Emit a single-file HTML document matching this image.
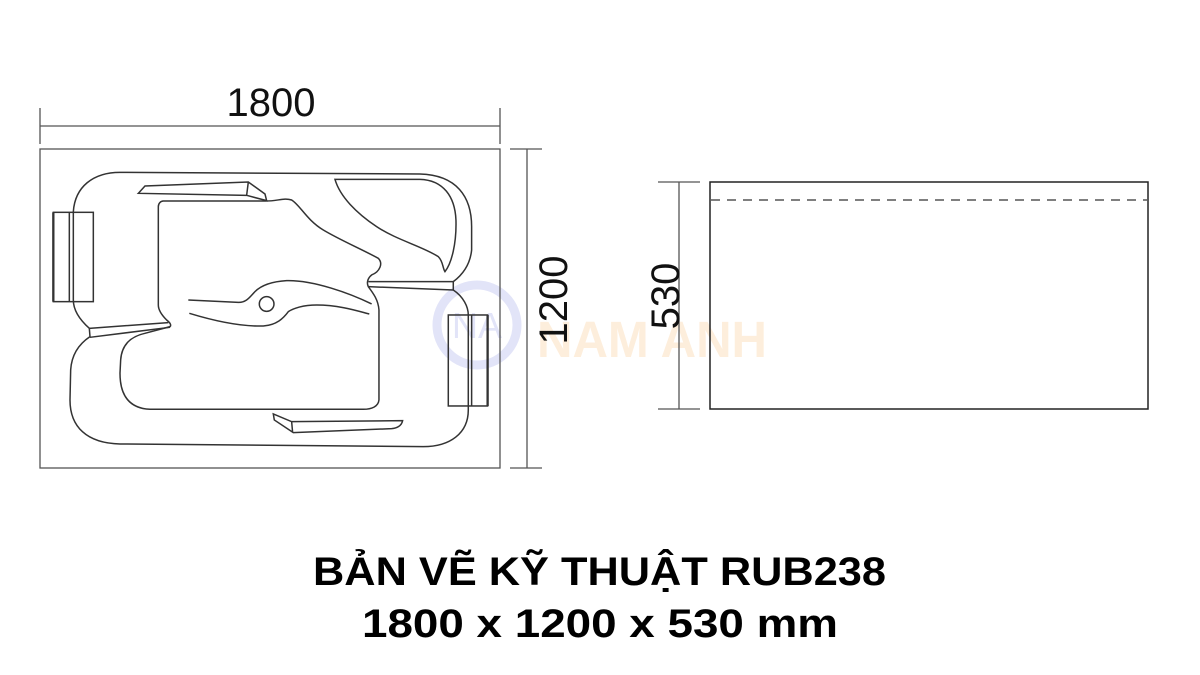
<!DOCTYPE html>
<html><head><meta charset="utf-8"><style>
html,body{margin:0;padding:0;background:#fff;}
svg{display:block;}
</style></head><body>
<svg width="1200" height="675" viewBox="0 0 1200 675" xmlns="http://www.w3.org/2000/svg">
<rect width="1200" height="675" fill="#fff"/>
<!-- watermark -->
<circle cx="477" cy="325" r="40" fill="none" stroke="#e2e4f8" stroke-width="9"/>
<text x="477" y="338" font-family="Liberation Sans, sans-serif" font-size="36" fill="#e2e4f8" text-anchor="middle">NA</text>
<text x="537" y="357" font-family="Liberation Sans, sans-serif" font-weight="bold" font-size="51" fill="#fdeedc" textLength="230" lengthAdjust="spacingAndGlyphs">NAM ANH</text>

<g fill="none" stroke="#555" stroke-width="1.3">
<!-- top dimension -->
<line x1="40" y1="126" x2="500" y2="126"/>
<line x1="40" y1="108" x2="40" y2="144"/>
<line x1="500" y1="108" x2="500" y2="144"/>
<!-- right dimension 1200 -->
<line x1="527" y1="149" x2="527" y2="468"/>
<line x1="510" y1="149" x2="542" y2="149"/>
<line x1="510" y1="468" x2="542" y2="468"/>
<!-- 530 dimension -->
<line x1="679" y1="182" x2="679" y2="409"/>
<line x1="658" y1="182" x2="700" y2="182"/>
<line x1="658" y1="409" x2="700" y2="409"/>
<!-- outer rect -->
<rect x="40" y="149" width="460" height="319"/>
</g>
<!-- side view -->
<rect x="710" y="182" width="438" height="227" fill="none" stroke="#222" stroke-width="1.5"/>
<line x1="711" y1="200" x2="1147" y2="200" stroke="#333" stroke-width="1.3" stroke-dasharray="9,7"/>

<!-- tub plan -->
<g transform="translate(30,140) scale(0.3333)" fill="none" stroke="#333" stroke-width="4.5">
<path d="M270,97 L1170,102 C1280,105 1325,170 1325,260 L1325,330 C1320,380 1290,410 1270,425 L1270,450 C1300,470 1315,500 1315,525 L1315,810 C1315,880 1260,920 1180,920 L270,912 C170,910 120,860 120,780 L122,690 C125,640 150,610 180,590 L178,565 C150,540 130,510 130,480 L130,215 C135,140 190,97 270,97 Z"/>
<path d="M178,565 L415,548 M180,592 L420,562"/>
<path d="M1015,425 L1270,425 M1015,440 L1270,450"/>
<path d="M400,183 L700,183 C740,185 760,172 785,180 C810,195 830,240 880,270 C930,300 1000,330 1045,355 C1060,370 1050,395 1025,405 C1012,415 1010,430 1015,440 C1030,460 1045,480 1047,510 L1047,780 C1045,800 1025,808 1000,808 L360,808 C300,805 270,770 270,700 L272,660 C275,615 300,590 345,580 L420,560 C425,555 420,548 410,540 C395,525 385,510 385,495 L385,200 C385,190 392,183 400,183 Z"/>
<path d="M325,160 L345,138 L655,126 L705,162 L710,182 L650,166 Z M650,166 L655,126"/>
<path d="M730,822 L785,845 L1118,842 C1115,858 1100,865 1085,866 L790,878 L733,840 Z M785,845 L788,878"/>
<path d="M915,118 L1170,118 C1240,120 1275,170 1278,240 C1280,310 1265,370 1245,395 C1238,385 1240,365 1225,350 C1180,320 1100,300 1040,260 C980,220 930,170 915,118 Z"/>
<path d="M475,480 L625,487 C650,488 660,470 675,455 C690,440 720,425 770,422 C850,420 960,460 1025,492"/>
<path d="M478,520 C560,545 640,560 700,558 C740,555 760,535 775,515 C790,505 820,495 860,495 C930,495 990,515 1018,522"/>
<circle cx="710" cy="492" r="22"/>
<rect x="70" y="217" width="120" height="268"/>
<line x1="118" y1="217" x2="118" y2="485"/>
<line x1="70" y1="217" x2="70" y2="485" stroke-width="7"/>
<rect x="1255" y="525" width="118" height="273"/>
<line x1="1325" y1="525" x2="1325" y2="798"/>
<line x1="1373" y1="525" x2="1373" y2="798" stroke-width="7"/>
</g>

<!-- labels -->
<g font-family="Liberation Sans, sans-serif" fill="#111">
<text x="271" y="116" font-size="40" text-anchor="middle">1800</text>
<text transform="translate(567,300) rotate(-90)" font-size="40" text-anchor="middle">1200</text>
<text transform="translate(679,296) rotate(-90)" font-size="40" text-anchor="middle">530</text>
</g>
<g font-family="Liberation Sans, sans-serif" font-weight="bold" fill="#000">
<text x="313" y="585" font-size="40" textLength="573" lengthAdjust="spacingAndGlyphs">BẢN VẼ KỸ THUẬT RUB238</text>
<text x="362" y="637" font-size="40" textLength="476" lengthAdjust="spacingAndGlyphs">1800 x 1200 x 530 mm</text>
</g>
</svg>
</body></html>
